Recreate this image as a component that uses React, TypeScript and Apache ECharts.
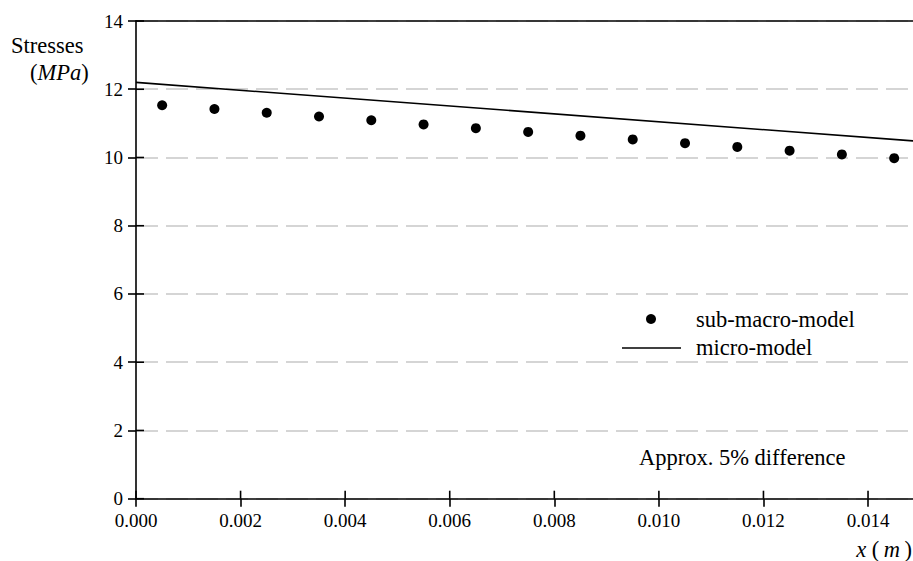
import React, { useEffect, useRef } from "react";
import * as echarts from "echarts";

// x positions (m) of the sub-macro-model points
const subX = [0.0005, 0.0015, 0.0025, 0.0035, 0.0045, 0.0055, 0.0065, 0.0075, 0.0085, 0.0095, 0.0105, 0.0115, 0.0125, 0.0135, 0.0145];
// stresses (MPa), sub-macro-model
const subStress = [11.53, 11.42, 11.31, 11.2, 11.09, 10.97, 10.86, 10.75, 10.64, 10.53, 10.42, 10.31, 10.2, 10.09, 9.98];
// micro-model line
const microX = [0, 0.015];
const microStress = [12.2, 10.47];
// ticks
const xTicks = [0, 0.002, 0.004, 0.006, 0.008, 0.01, 0.012, 0.014];
const yTicks = [0, 2, 4, 6, 8, 10, 12, 14];
const X_MAX = 0.01486;

const FONT = "Liberation Serif";

export default function App() {
  const ref = useRef<HTMLDivElement>(null);
  useEffect(() => {
    if (!ref.current) return;
    const chart = echarts.init(ref.current, null, { renderer: "svg" });
    const axisBlack = { color: "#000", width: 1.6 };
    const xBase = { type: "value", min: 0, max: X_MAX, gridIndex: 0 };
    const txt = (text: string) => ({ text, fontSize: 22.5, fontFamily: FONT, fill: "#000" });
    const TICK_IN = 8;
    chart.setOption({
      animation: false,
      backgroundColor: "#fff",
      textStyle: { fontFamily: FONT },
      grid: { left: 136, top: 21, right: 0, bottom: 62.3, containLabel: false },
      xAxis: [
        {
          ...xBase,
          position: "bottom",
          axisLine: { show: true, onZero: false, lineStyle: axisBlack },
          axisTick: { show: true, inside: false, length: 8, lineStyle: axisBlack, customValues: xTicks },
          axisLabel: {
            show: true,
            customValues: xTicks,
            margin: 12,
            color: "#000",
            fontSize: 19,
            fontFamily: FONT,
            formatter: (v: number) => v.toFixed(3),
          },
          splitLine: { show: false },
        },
        {
          ...xBase,
          position: "top",
          axisLine: { show: true, onZero: false, lineStyle: axisBlack },
          axisTick: { show: false },
          axisLabel: { show: false },
          splitLine: { show: false },
        },
      ],
      yAxis: [
        {
          type: "value",
          min: 0,
          max: 14,
          interval: 2,
          position: "left",
          axisLine: { show: true, onZero: false, lineStyle: axisBlack },
          axisTick: { show: true, inside: false, length: 8, lineStyle: axisBlack },
          axisLabel: { show: true, margin: 13, color: "#000", fontSize: 19, fontFamily: FONT },
          splitLine: { show: true, lineStyle: { color: "#c8c8c8", width: 1.6, type: [22, 8] } },
        },
      ],
      series: [
        {
          name: "micro-model",
          type: "line",
          xAxisIndex: 0,
          yAxisIndex: 0,
          data: microX.map((x, i) => [x, microStress[i]]),
          showSymbol: false,
          clip: true,
          lineStyle: { color: "#000", width: 1.6 },
          itemStyle: { color: "#000" },
        },
        {
          name: "sub-macro-model",
          type: "scatter",
          xAxisIndex: 0,
          yAxisIndex: 0,
          data: subX.map((x, i) => [x, subStress[i]]),
          symbol: "circle",
          symbolSize: 10,
          itemStyle: { color: "#000", opacity: 1 },
        },
        {
          name: "xTicksInside",
          type: "custom",
          xAxisIndex: 0,
          yAxisIndex: 0,
          clip: false,
          silent: true,
          data: xTicks.map((v) => [v, 0]),
          renderItem: (_p: any, api: any) => {
            const pt = api.coord([api.value(0), 0]);
            return {
              type: "line",
              shape: { x1: pt[0], y1: pt[1], x2: pt[0], y2: pt[1] - TICK_IN },
              style: { stroke: "#000", lineWidth: 1.6 },
            };
          },
        },
        {
          name: "yTicksInside",
          type: "custom",
          xAxisIndex: 0,
          yAxisIndex: 0,
          clip: false,
          silent: true,
          data: yTicks.map((v) => [0, v]),
          renderItem: (_p: any, api: any) => {
            const pt = api.coord([0, api.value(1)]);
            return {
              type: "line",
              shape: { x1: pt[0], y1: pt[1], x2: pt[0] + TICK_IN, y2: pt[1] },
              style: { stroke: "#000", lineWidth: 1.6 },
            };
          },
        },
      ],
      graphic: [
        { type: "text", left: 11, top: 34, style: txt("Stresses") },
        {
          type: "text",
          left: 30,
          top: 61,
          style: {
            ...txt("({i|MPa})"),
            rich: { i: { fontStyle: "italic", fontSize: 22.5, fontFamily: FONT, fill: "#000" } },
          },
        },
        { type: "circle", shape: { cx: 651, cy: 319, r: 5 }, style: { fill: "#000" } },
        { type: "line", shape: { x1: 622, y1: 348, x2: 681, y2: 348 }, style: { stroke: "#000", lineWidth: 1.6 } },
        { type: "text", left: 696, top: 308, style: txt("sub-macro-model") },
        { type: "text", left: 696, top: 336, style: txt("micro-model") },
        { type: "text", left: 639, top: 446, style: txt("Approx. 5% difference") },
        {
          type: "text",
          right: 1,
          top: 538,
          style: {
            ...txt("{i|x} (\u2009{i|m}\u2009)"),
            rich: { i: { fontStyle: "italic", fontSize: 22.5, fontFamily: FONT, fill: "#000" } },
          },
        },
      ],
    });
    return () => chart.dispose();
  }, []);
  return <div ref={ref} style={{ position: "absolute", left: 0, top: 0, width: 913, height: 561 }} />;
}
